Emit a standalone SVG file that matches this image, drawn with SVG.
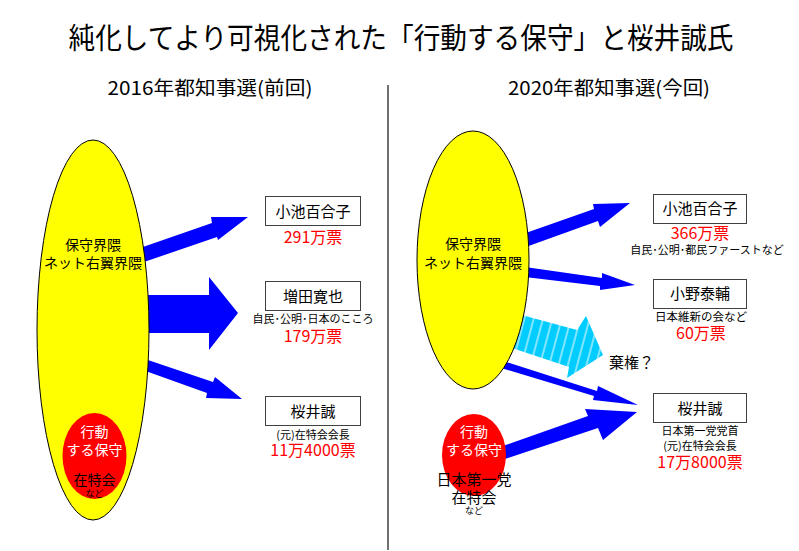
<svg xmlns="http://www.w3.org/2000/svg" width="799" height="551" viewBox="0 0 799 551">
<defs>
<style>
text{font-family:"Noto Sans CJK JP","Noto Sans",sans-serif;text-anchor:middle;fill:#000}
.t{font-size:29px}
.sub{font-size:19px}
.nm{font-size:15px}
.lb{font-size:14px}
.wh{fill:#fff}
.vote{font-size:16px;fill:#ff0000}
.sm{font-size:11px}
.xs{font-size:9px}
.box{fill:#fff;stroke:#404040;stroke-width:1}
.yel{fill:#ffff00;stroke:#000;stroke-width:1}
.red{fill:#ff0000}
.arr{fill:#0000ff}
</style>
<pattern id="stripe" width="9" height="9" patternUnits="userSpaceOnUse" patternTransform="rotate(15)">
<rect width="9" height="9" fill="#00ccff"/>
<line x1="4" y1="0" x2="4" y2="9" stroke="#fff" stroke-width="1"/>
</pattern>
</defs>
<rect width="799" height="551" fill="#fff"/>

<g id="title">
<text class="t" x="401" y="49" textLength="665" lengthAdjust="spacingAndGlyphs">純化してより可視化された「行動する保守」と桜井誠氏</text>
<text class="sub" x="210" y="95" textLength="205" lengthAdjust="spacingAndGlyphs">2016年都知事選(前回)</text>
<text class="sub" x="609" y="95" textLength="202" lengthAdjust="spacingAndGlyphs">2020年都知事選(今回)</text>
</g>

<line id="divider" x1="388" y1="85" x2="388" y2="550" stroke="#404040" stroke-width="1.5"/>

<g id="connectors">
<polygon class="arr" points="140,248 212,223 211,217 248,217 218,240 217,237 144,262"/>
<polygon class="arr" points="140,295 209,295 209,277 238,313 209,350 209,333 140,333"/>
<polygon class="arr" points="142,358 213,382 215,377 242,399 206,398 207,393 140,369"/>
<polygon class="arr" points="520,235 594,209 593,204 630,203 600,227 598,221 523,248"/>
<polygon class="arr" points="525,267 602,278 602,273 635,285 600,290 600,286 525,277"/>
<polygon fill="url(#stripe)" points="518,314 577,330 586,316 603,355 567,378 569,367 512,348"/>
<polygon class="arr" points="503,361 597,391 598,386 638,405 593,400 594,396 501,368"/>
<polygon class="arr" points="500,447 588,416 585,409 637,412 603,440 598,428 502,460"/>
</g>

<g id="left-group">
<ellipse class="yel" cx="93" cy="330" rx="56" ry="190"/>
<text class="lb" x="93" y="250">保守界隈</text>
<text class="lb" x="93" y="268">ネット右翼界隈</text>
</g>
<g id="left-action">
<ellipse class="red" cx="94.5" cy="456" rx="32" ry="43"/>
<text class="lb wh" x="94.5" y="437">行動</text>
<text class="lb wh" x="94.5" y="455">する保守</text>
<text class="lb" x="94.5" y="485">在特会</text>
<text class="xs" x="94.5" y="497">など</text>
</g>

<g id="left-koike">
<rect class="box" x="265.5" y="196.5" width="95" height="29"/>
<text class="nm" x="313" y="216.5">小池百合子</text>
<text class="vote" x="313" y="243">291万票</text>
</g>
<g id="left-masuda">
<rect class="box" x="265.5" y="281.5" width="95" height="29"/>
<text class="nm" x="313" y="301.5">増田寛也</text>
<text class="sm" x="313" y="323">自民･公明･日本のこころ</text>
<text class="vote" x="313" y="342">179万票</text>
</g>
<g id="left-sakurai">
<rect class="box" x="265.5" y="396.5" width="95" height="29"/>
<text class="nm" x="313" y="416.5">桜井誠</text>
<text class="sm" x="313" y="439">(元)在特会会長</text>
<text class="vote" x="313" y="456">11万4000票</text>
</g>

<g id="right-group">
<ellipse class="yel" cx="473" cy="260" rx="56" ry="129"/>
<text class="lb" x="473" y="249">保守界隈</text>
<text class="lb" x="473" y="268">ネット右翼界隈</text>
</g>
<g id="right-action">
<ellipse class="red" cx="474" cy="455" rx="32" ry="41"/>
<text class="lb wh" x="474" y="437">行動</text>
<text class="lb wh" x="474" y="455">する保守</text>
<text class="nm" x="474" y="484.5">日本第一党</text>
<text class="nm" x="474" y="502.5">在特会</text>
<text class="xs" x="474" y="514">など</text>
</g>

<g id="right-koike">
<rect class="box" x="653.5" y="194.5" width="93" height="29"/>
<text class="nm" x="700" y="214">小池百合子</text>
<text class="vote" x="700" y="239">366万票</text>
<text class="sm" x="707" y="254">自民･公明･都民ファーストなど</text>
</g>
<g id="right-ono">
<rect class="box" x="653.5" y="279.5" width="93" height="29"/>
<text class="nm" x="700" y="299">小野泰輔</text>
<text class="sm" x="701" y="321" style="font-size:11.5px">日本維新の会など</text>
<text class="vote" x="701" y="339">60万票</text>
</g>
<g id="abstain">
<text class="nm" x="609" y="367.5" style="text-anchor:start">棄権？</text>
</g>
<g id="right-sakurai">
<rect class="box" x="653.5" y="393.5" width="93" height="29"/>
<text class="nm" x="700" y="413.5">桜井誠</text>
<text class="sm" x="700" y="434.5">日本第一党党首</text>
<text class="sm" x="700" y="449.5">(元)在特会会長</text>
<text class="vote" x="700" y="468">17万8000票</text>
</g>
</svg>
